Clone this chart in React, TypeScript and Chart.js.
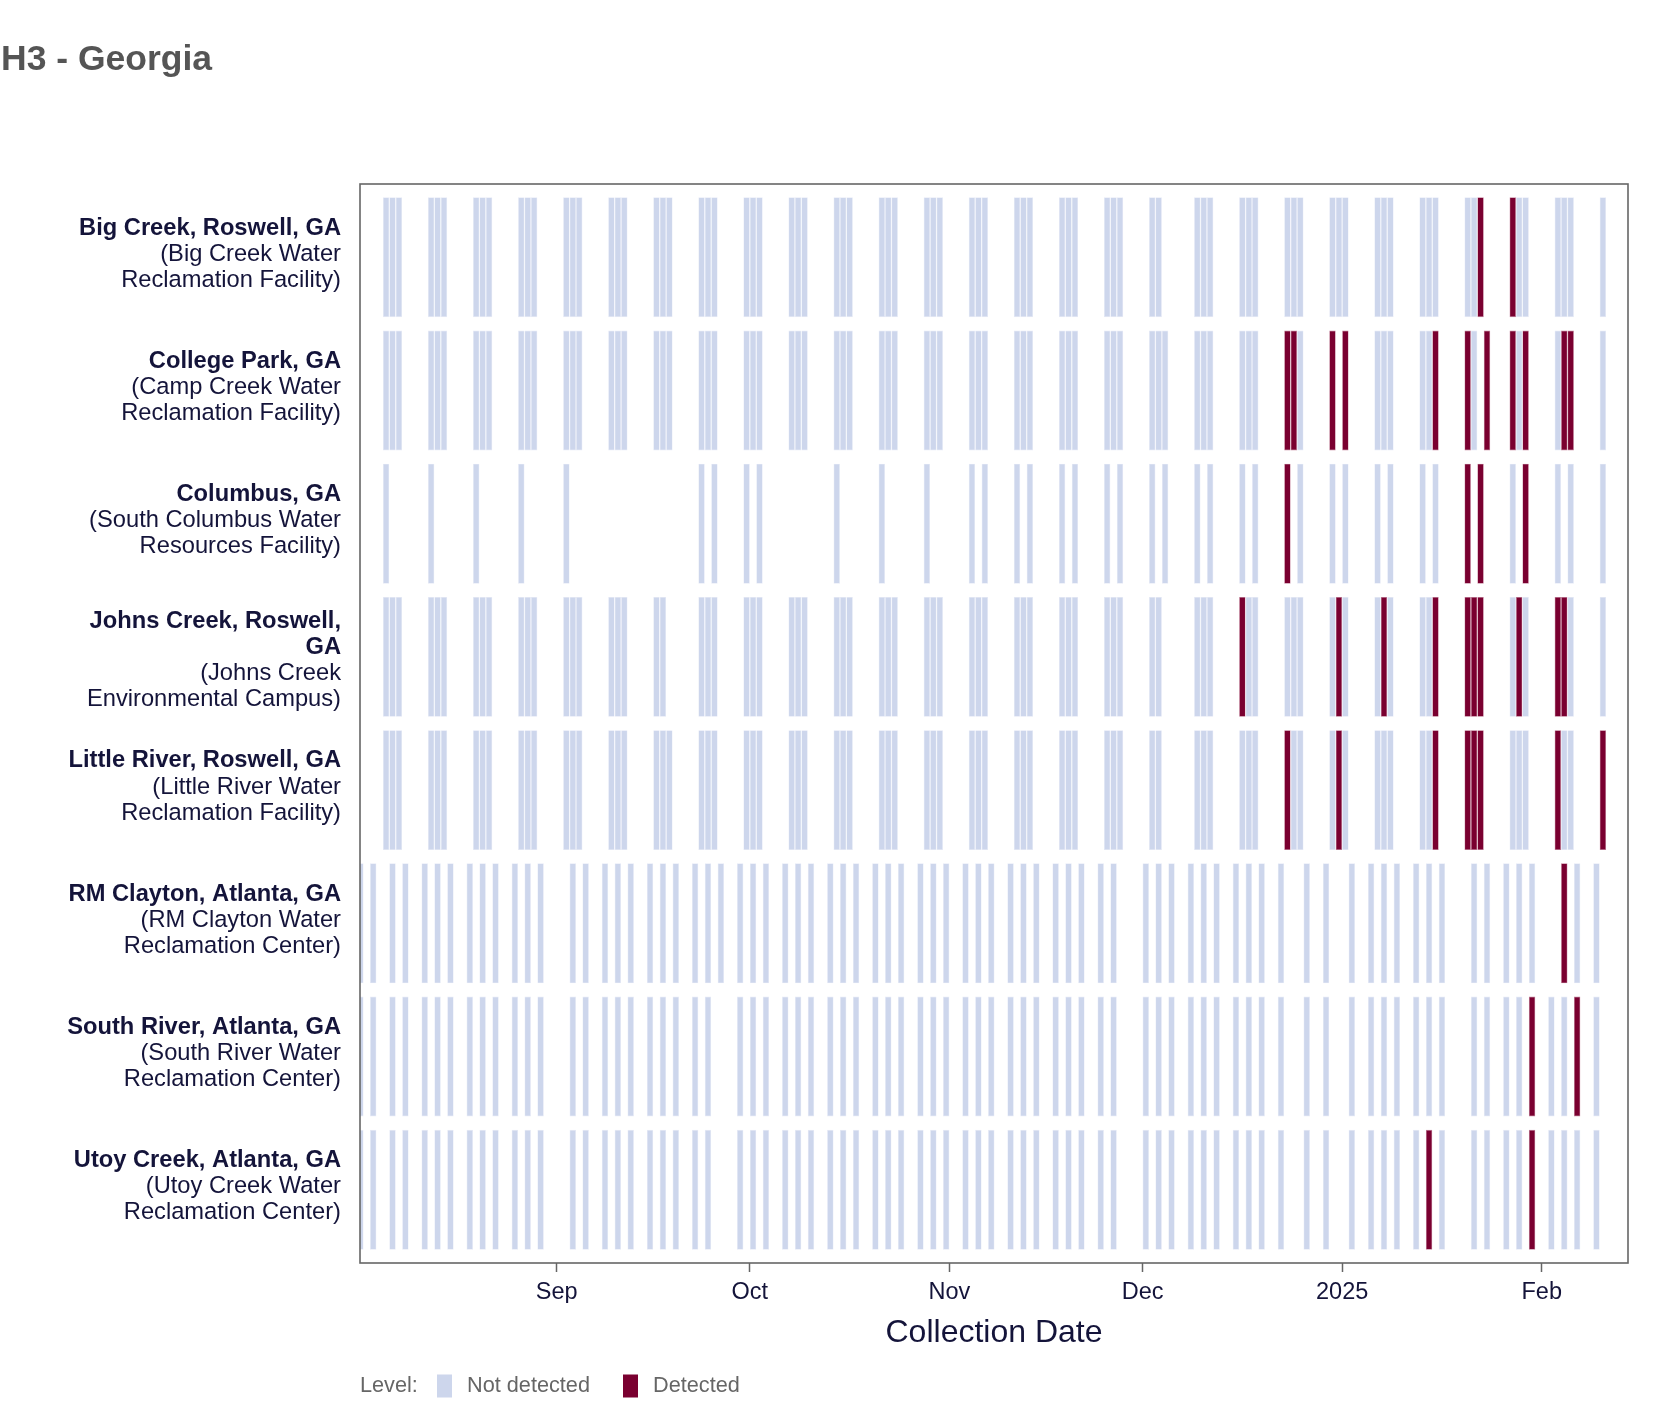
import React, { useEffect, useRef } from 'react';
import { Chart, registerables } from 'chart.js';

Chart.register(...registerables);

// Day offsets are days since 2024-09-01 (negative = August 2024).
const X_MIN = -30.55;
const X_MAX = 166.4;
const MONTH_TICKS = [0, 30, 61, 91, 122, 153];
const MONTH_LABELS = ['Sep', 'Oct', 'Nov', 'Dec', '2025', 'Feb'];

const SITE_NAMES: string[][] = [
  ['Big Creek, Roswell, GA'],
  ['College Park, GA'],
  ['Columbus, GA'],
  ['Johns Creek, Roswell,', 'GA'],
  ['Little River, Roswell, GA'],
  ['RM Clayton, Atlanta, GA'],
  ['South River, Atlanta, GA'],
  ['Utoy Creek, Atlanta, GA'],
];
const SITE_FACILITIES: string[][] = [
  ['(Big Creek Water', 'Reclamation Facility)'],
  ['(Camp Creek Water', 'Reclamation Facility)'],
  ['(South Columbus Water', 'Resources Facility)'],
  ['(Johns Creek', 'Environmental Campus)'],
  ['(Little River Water', 'Reclamation Facility)'],
  ['(RM Clayton Water', 'Reclamation Center)'],
  ['(South River Water', 'Reclamation Center)'],
  ['(Utoy Creek Water', 'Reclamation Center)'],
];

const BIG_CREEK = [-27, -26, -25, -20, -19, -18, -13, -12, -11, -6, -5, -4, 1, 2, 3, 8, 9, 10, 15, 16, 17, 22, 23, 24, 29, 30, 31, 36, 37, 38, 43, 44, 45, 50, 51, 52, 57, 58, 59, 64, 65, 66, 71, 72, 73, 78, 79, 80, 85, 86, 87, 92, 93, 99, 100, 101, 106, 107, 108, 113, 114, 115, 120, 121, 122, 127, 128, 129, 134, 135, 136, 141, 142, 143, 148, 149, 150, 155, 156, 157, 162];
const BIG_CREEK_DET = [143, 148];

const COLLEGE_PARK = [-27, -26, -25, -20, -19, -18, -13, -12, -11, -6, -5, -4, 1, 2, 3, 8, 9, 10, 15, 16, 17, 22, 23, 24, 29, 30, 31, 36, 37, 38, 43, 44, 45, 50, 51, 52, 57, 58, 59, 64, 65, 66, 71, 72, 73, 78, 79, 80, 85, 86, 87, 92, 93, 94, 99, 100, 101, 106, 107, 108, 113, 114, 115, 120, 122, 127, 128, 129, 134, 135, 136, 141, 142, 144, 148, 149, 150, 155, 156, 157, 162];
const COLLEGE_PARK_DET = [113, 114, 120, 122, 136, 141, 144, 148, 150, 156, 157];

const COLUMBUS = [-27, -20, -13, -6, 1, 22, 24, 29, 31, 43, 50, 57, 64, 66, 71, 73, 78, 80, 85, 87, 92, 94, 99, 101, 106, 108, 113, 115, 120, 122, 127, 129, 134, 136, 141, 143, 148, 150, 155, 157, 162];
const COLUMBUS_DET = [113, 141, 143, 150];

const JOHNS_CREEK = [-27, -26, -25, -20, -19, -18, -13, -12, -11, -6, -5, -4, 1, 2, 3, 8, 9, 10, 15, 16, 22, 23, 24, 29, 30, 31, 36, 37, 38, 43, 44, 45, 50, 51, 52, 57, 58, 59, 64, 65, 66, 71, 72, 73, 78, 79, 80, 85, 86, 87, 92, 93, 99, 100, 101, 106, 107, 108, 113, 114, 115, 120, 121, 122, 127, 128, 129, 134, 135, 136, 141, 142, 143, 148, 149, 150, 155, 156, 157, 162];
const JOHNS_CREEK_DET = [106, 121, 128, 136, 141, 142, 143, 149, 155, 156];

const LITTLE_RIVER = [-27, -26, -25, -20, -19, -18, -13, -12, -11, -6, -5, -4, 1, 2, 3, 8, 9, 10, 15, 16, 17, 22, 23, 24, 29, 30, 31, 36, 37, 38, 43, 44, 45, 50, 51, 52, 57, 58, 59, 64, 65, 66, 71, 72, 73, 78, 79, 80, 85, 86, 87, 92, 93, 99, 100, 101, 106, 107, 108, 113, 114, 115, 120, 121, 122, 127, 128, 129, 134, 135, 136, 141, 142, 143, 148, 149, 150, 155, 156, 157, 162];
const LITTLE_RIVER_DET = [113, 121, 136, 141, 142, 143, 155, 162];

const RM_CLAYTON = [-31, -29, -26, -24, -21, -19, -17, -14, -12, -10, -7, -5, -3, 2, 4, 7, 9, 11, 14, 16, 18, 21, 23, 25, 28, 30, 32, 35, 37, 39, 42, 44, 46, 49, 51, 53, 56, 58, 60, 63, 65, 67, 70, 72, 74, 77, 79, 81, 84, 86, 91, 93, 95, 98, 100, 102, 105, 107, 109, 112, 116, 119, 123, 126, 128, 130, 133, 135, 137, 142, 144, 147, 149, 151, 156, 158, 161];
const RM_CLAYTON_DET = [156];

const SOUTH_RIVER = [-31, -29, -26, -24, -21, -19, -17, -14, -12, -10, -7, -5, -3, 2, 4, 7, 9, 11, 14, 16, 18, 21, 23, 28, 30, 32, 35, 37, 39, 42, 44, 46, 49, 51, 53, 56, 58, 60, 63, 65, 67, 70, 72, 74, 77, 79, 81, 84, 86, 91, 93, 95, 98, 100, 102, 105, 107, 109, 112, 116, 119, 123, 126, 128, 130, 133, 135, 137, 142, 144, 147, 149, 151, 154, 156, 158, 161];
const SOUTH_RIVER_DET = [151, 158];

const UTOY_CREEK = [-31, -29, -26, -24, -21, -19, -17, -14, -12, -10, -7, -5, -3, 2, 4, 7, 9, 11, 14, 16, 18, 21, 23, 28, 30, 32, 35, 37, 39, 42, 44, 46, 49, 51, 53, 56, 58, 60, 63, 65, 67, 70, 72, 74, 77, 79, 81, 84, 86, 91, 93, 95, 98, 100, 102, 105, 107, 109, 112, 116, 119, 123, 126, 128, 130, 133, 135, 137, 142, 144, 147, 149, 151, 154, 156, 158, 161];
const UTOY_CREEK_DET = [135, 151];

const SAMPLES = [BIG_CREEK, COLLEGE_PARK, COLUMBUS, JOHNS_CREEK, LITTLE_RIVER, RM_CLAYTON, SOUTH_RIVER, UTOY_CREEK];
const DETECTED = [BIG_CREEK_DET, COLLEGE_PARK_DET, COLUMBUS_DET, JOHNS_CREEK_DET, LITTLE_RIVER_DET, RM_CLAYTON_DET, SOUTH_RIVER_DET, UTOY_CREEK_DET];

const LEVELS = ['Not detected', 'Detected'];
const LEVEL_COLORS = ['#cdd6ec', '#7a0030'];
const LEVEL_BORDERS = ['#e6eaf6', '#c27f98'];

const FONT = '"Liberation Sans", Arial, Helvetica, sans-serif';
const TEXT_DARK = '#14143a';

const W = 1668;
const H = 1414;

const decorPlugin = {
  id: 'decor',
  afterDraw(chart: any) {
    const { ctx, chartArea } = chart;
    const ys = chart.scales.y;
    ctx.save();
    // title
    ctx.fillStyle = '#555555';
    ctx.font = `bold 35.5px ${FONT}`;
    ctx.textAlign = 'left';
    ctx.textBaseline = 'alphabetic';
    ctx.fillText('H3 - Georgia', 1, 70);

    // plot border
    ctx.strokeStyle = '#666666';
    ctx.lineWidth = 1.6;
    ctx.strokeRect(chartArea.left, chartArea.top, chartArea.right - chartArea.left, chartArea.bottom - chartArea.top);

    // y labels
    const lh = 26.2;
    ctx.textAlign = 'right';
    ctx.textBaseline = 'middle';
    ctx.fillStyle = TEXT_DARK;
    SITE_NAMES.forEach((names, i) => {
      const lines = [...names.map((t) => ({ t, b: true })), ...SITE_FACILITIES[i].map((t) => ({ t, b: false }))];
      const n = lines.length;
      const cy = ys.getPixelForValue(i);
      const y0 = cy - ((n - 1) * lh) / 2 + (n - 3) * 6.7 - 3.0;
      lines.forEach((ln, k) => {
        ctx.font = `${ln.b ? 'bold ' : ''}23.7px ${FONT}`;
        ctx.fillText(ln.t, chartArea.left - 19, y0 + k * lh);
      });
    });

    // x axis title
    ctx.textAlign = 'center';
    ctx.font = `32px ${FONT}`;
    ctx.fillText('Collection Date', (chartArea.left + chartArea.right) / 2, 1333);

    // legend
    const ly = 1386;
    ctx.textAlign = 'left';
    ctx.font = `21.7px ${FONT}`;
    ctx.fillStyle = '#666666';
    ctx.fillText('Level:', 360, ly);
    const items = [
      { x: 437, tx: 467 },
      { x: 623, tx: 653 },
    ];
    LEVELS.forEach((lab, i) => {
      ctx.fillStyle = LEVEL_COLORS[i];
      ctx.fillRect(items[i].x, ly - 11.5, 15, 23);
      ctx.fillStyle = '#666666';
      ctx.fillText(lab, items[i].tx, ly);
    });
    ctx.restore();
  },
};

export default function App() {
  const ref = useRef<HTMLCanvasElement | null>(null);
  useEffect(() => {
    document.body.style.margin = '0';
    const canvas = ref.current;
    if (!canvas) return;
    const datasets = LEVELS.map((lab, li) => {
      const data: any[] = [];
      SAMPLES.forEach((days, i) => {
        days.forEach((d) => {
          const det = DETECTED[i].includes(d);
          if ((li === 1) === det) data.push({ x: [d, d + 1], y: i });
        });
      });
      return {
        label: lab,
        data,
        backgroundColor: LEVEL_COLORS[li],
        borderColor: LEVEL_BORDERS[li],
        borderWidth: 0.6,
        borderSkipped: false,
        grouped: false,
        barPercentage: 0.9,
        categoryPercentage: 1,
      };
    });
    const chart = new Chart(canvas, {
      type: 'bar',
      data: { datasets } as any,
      options: {
        indexAxis: 'y',
        animation: false,
        responsive: false,
        devicePixelRatio: 1,
        layout: { padding: { left: 360, right: 40, top: 184, bottom: 111 } },
        plugins: { legend: { display: false }, title: { display: false }, tooltip: { enabled: false } },
        scales: {
          x: {
            type: 'linear',
            position: 'bottom',
            min: X_MIN,
            max: X_MAX,
            offset: false,
            afterBuildTicks: (s: any) => {
              s.ticks = MONTH_TICKS.map((v) => ({ value: v }));
            },
            afterFit: (s: any) => {
              s.height = 40;
            },
            ticks: {
              autoSkip: false,
              maxRotation: 0,
              padding: 6,
              color: TEXT_DARK,
              font: { family: FONT, size: 23.5 },
              callback: (v: any) => MONTH_LABELS[MONTH_TICKS.indexOf(Number(v))] ?? '',
            },
            grid: { offset: false, drawOnChartArea: false, drawTicks: true, tickLength: 9, tickColor: '#666666', tickWidth: 1.5 },
            border: { display: false },
          },
          y: {
            type: 'linear',
            min: -0.55,
            max: 7.55,
            reverse: true,
            display: false,
            offset: false,
            grid: { offset: false },
            afterBuildTicks: (s: any) => {
              s.ticks = SAMPLES.map((_, i) => ({ value: i }));
            },
          },
        },
      } as any,
      plugins: [decorPlugin],
    });
    return () => chart.destroy();
  }, []);
  return <canvas ref={ref} width={W} height={H} style={{ width: W, height: H, display: 'block' }} />;
}
